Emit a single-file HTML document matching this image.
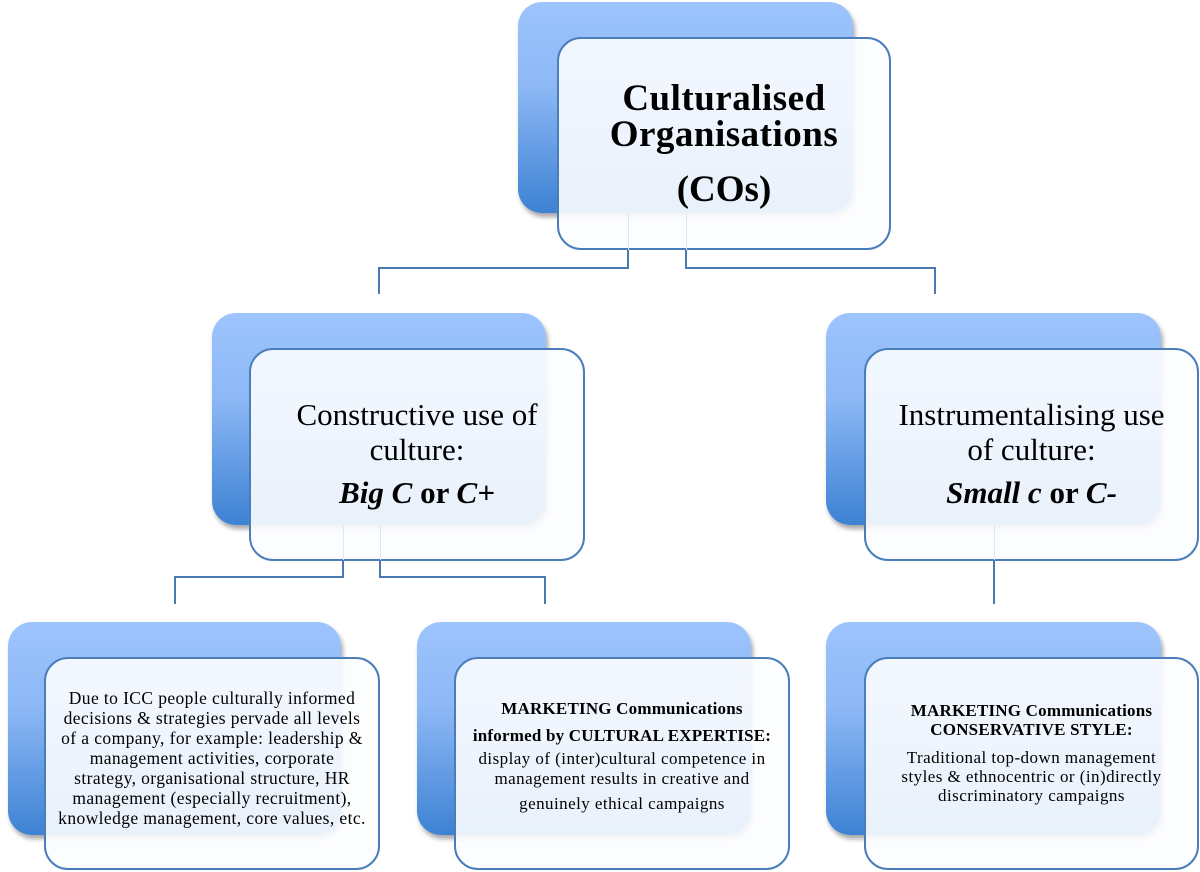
<!DOCTYPE html>
<html><head><meta charset="utf-8"><style>
body{margin:0;width:1200px;height:872px;background:#fff;position:relative;overflow:hidden;font-family:"Liberation Serif",serif;}
.b{position:absolute;border-radius:24px;background:linear-gradient(#9dc4fd,#8db8f6 40%,#3d82d3);box-shadow:2px 4px 5px rgba(0,0,0,0.35);}
.f{position:absolute;border-radius:24px;border:2px solid #4a7ebb;background:rgba(252,253,255,0.9);display:flex;flex-direction:column;justify-content:center;align-items:center;text-align:center;color:#000;box-sizing:border-box;}
.l{position:absolute;background:#4a78b0;}
.fl{position:absolute;background:#dfe7f3;width:1px;}
.s{font-size:17px;line-height:19px;letter-spacing:0.45px;}
</style></head><body>
<!-- top -->
<div class="b" style="left:518px;top:2px;width:335px;height:211px"></div>
<div class="f" style="left:557px;top:37px;width:334px;height:213px;padding-top:2px">
<div style="font-weight:bold;font-size:37px;line-height:36px;letter-spacing:0.5px">Culturalised<br>Organisations</div>
<div style="font-weight:bold;font-size:37px;line-height:36px;margin-top:19px">(COs)</div>
</div>
<div class="fl" style="left:628px;top:213px;height:55px"></div>
<div class="fl" style="left:686px;top:213px;height:55px"></div>
<div class="l" style="left:627px;top:250px;width:2px;height:19px"></div>
<div class="l" style="left:685px;top:250px;width:2px;height:19px"></div>
<div class="l" style="left:378px;top:267px;width:251px;height:2px"></div>
<div class="l" style="left:685px;top:267px;width:251px;height:2px"></div>
<div class="l" style="left:378px;top:267px;width:2px;height:27px"></div>
<div class="l" style="left:934px;top:267px;width:2px;height:27px"></div>
<!-- middle left -->
<div class="b" style="left:212px;top:313px;width:334px;height:212px"></div>
<div class="f" style="left:249px;top:348px;width:336px;height:213px;font-size:31px;line-height:35px;padding-bottom:2px">
<div>Constructive use of<br>culture:</div>
<div style="margin-top:8px"><b><i>Big C</i> or <i>C+</i></b></div>
</div>
<div class="fl" style="left:343px;top:525px;height:52px"></div>
<div class="fl" style="left:380px;top:525px;height:52px"></div>
<div class="l" style="left:342px;top:560px;width:2px;height:18px"></div>
<div class="l" style="left:379px;top:560px;width:2px;height:18px"></div>
<div class="l" style="left:174px;top:576px;width:170px;height:2px"></div>
<div class="l" style="left:379px;top:576px;width:167px;height:2px"></div>
<div class="l" style="left:174px;top:576px;width:2px;height:28px"></div>
<div class="l" style="left:544px;top:576px;width:2px;height:28px"></div>
<!-- middle right -->
<div class="b" style="left:826px;top:313px;width:335px;height:212px"></div>
<div class="f" style="left:864px;top:348px;width:335px;height:213px;font-size:31px;line-height:35px;padding-bottom:2px">
<div>Instrumentalising use<br>of culture:</div>
<div style="margin-top:8px"><b><i>Small c</i> or <i>C-</i></b></div>
</div>
<div class="fl" style="left:994px;top:525px;height:36px"></div>
<div class="l" style="left:993px;top:560px;width:2px;height:44px"></div>
<!-- bottom -->
<div class="b" style="left:8px;top:622px;width:333px;height:213px"></div>
<div class="f" style="left:44px;top:657px;width:336px;height:213px;padding-bottom:12px;font-size:17.5px;line-height:20px;letter-spacing:0.4px">
<div>Due to ICC people culturally informed<br>decisions &amp; strategies pervade all levels<br>of a company, for example: leadership &amp;<br>management activities, corporate<br>strategy, organisational structure, HR<br>management (especially recruitment),<br>knowledge management, core values, etc.</div>
</div>
<div class="b" style="left:417px;top:622px;width:334px;height:213px"></div>
<div class="f s" style="left:454px;top:657px;width:336px;height:213px;padding-bottom:14px">
<div style="font-weight:bold;line-height:27px;letter-spacing:0.2px">MARKETING Communications<br>informed by CULTURAL EXPERTISE:</div>
<div style="line-height:20px">display of (inter)cultural competence in<br>management results in creative and<br><span style="line-height:30px">genuinely ethical campaigns</span></div>
</div>
<div class="b" style="left:826px;top:622px;width:335px;height:213px"></div>
<div class="f s" style="left:864px;top:657px;width:335px;height:213px;padding-bottom:22px">
<div style="font-weight:bold;line-height:19px;letter-spacing:0.2px">MARKETING Communications<br>CONSERVATIVE STYLE:</div>
<div style="line-height:19px;margin-top:9px">Traditional top-down management<br>styles &amp; ethnocentric or (in)directly<br>discriminatory campaigns</div>
</div>
</body></html>
